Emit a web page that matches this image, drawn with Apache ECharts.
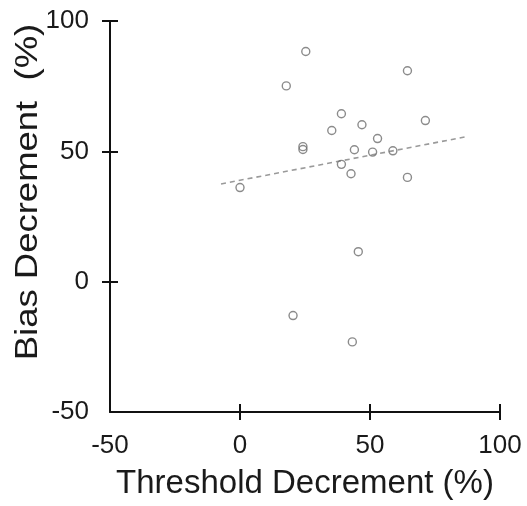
<!DOCTYPE html>
<html>
<head>
<meta charset="utf-8">
<script src="https://cdn.jsdelivr.net/npm/echarts@6/dist/echarts.min.js"></script>
<style>html,body{margin:0;padding:0;background:#fff}#c{width:527px;height:506px}</style>
</head>
<body>
<div id="c"></div>
<script>
var thresholdDecrement = [25.3, 64.4, 17.8, 39.0, 46.9, 35.3, 71.3, 52.9, 24.2, 24.2, 44.0, 51.0, 58.8, 39.0, 42.7, 64.4, 0.0, 45.5, 20.4, 43.2];
var biasDecrement      = [88.3, 80.9, 75.1, 64.4, 60.2, 58.0, 61.8, 54.9, 51.8, 50.7, 50.6, 49.7, 50.2, 45.0, 41.4, 40.0, 36.1, 11.5, -13.0, -23.1];
var trendX = [-7.3, 87.0];
var trendY = [37.5, 55.6];
var tickValues = [0, 50, 100];
var xTitle = 'Threshold Decrement (%)';
var yTitle = 'Bias Decrement  (%)';

var pts = thresholdDecrement.map(function (x, i) { return [x, biasDecrement[i]]; });
var trend = trendX.map(function (x, i) { return [x, trendY[i]]; });

var FONT = '"Liberation Sans", Arial, sans-serif';
var TXT = '#1a1a1a';
var AX = '#111';

var chart = echarts.init(document.getElementById('c'), null, { renderer: 'canvas' });
chart.setOption({
  animation: false,
  backgroundColor: '#fff',
  grid: { left: 110, top: 21, width: 390, height: 391, containLabel: false },
  xAxis: [
    {
      type: 'value', min: -50, max: 100, interval: 50, position: 'bottom',
      splitLine: { show: false },
      axisLine: { show: true, onZero: false, lineStyle: { color: AX, width: 2 } },
      axisTick: { show: false },
      axisLabel: { show: true, margin: 21, fontSize: 26, color: TXT, fontFamily: FONT },
      name: xTitle, nameLocation: 'middle', nameGap: 55,
      nameTextStyle: { fontSize: 33, color: TXT, fontFamily: FONT }
    },
    {
      type: 'value', min: -50, max: 100, interval: 50, position: 'bottom', offset: -8,
      splitLine: { show: false },
      axisLine: { show: false, onZero: false },
      axisTick: { show: true, inside: false, length: 16, customValues: tickValues, lineStyle: { color: AX, width: 2 } },
      axisLabel: { show: false }
    }
  ],
  yAxis: [
    {
      type: 'value', min: -50, max: 100, interval: 50, position: 'left',
      splitLine: { show: false },
      axisLine: { show: true, onZero: false, lineStyle: { color: AX, width: 2 } },
      axisTick: { show: false },
      axisLabel: { show: true, margin: 21, fontSize: 26, color: TXT, fontFamily: FONT }
    },
    {
      type: 'value', min: -50, max: 100, interval: 50, position: 'left', offset: -8,
      splitLine: { show: false },
      axisLine: { show: false, onZero: false },
      axisTick: { show: true, inside: false, length: 16, customValues: tickValues, lineStyle: { color: AX, width: 2 } },
      axisLabel: { show: false }
    }
  ],
  graphic: [{
    type: 'text', x: 28, y: 192, rotation: Math.PI / 2, scaleX: 1.14,
    style: { text: yTitle, fontSize: 32, fontFamily: FONT, fill: TXT, align: 'center', verticalAlign: 'middle' }
  }],
  series: [
    {
      type: 'line', data: trend, showSymbol: false, symbol: 'none', silent: true,
      lineStyle: { color: '#9a9a9a', width: 1.6, type: [5, 4] }, z: 1
    },
    {
      type: 'scatter', data: pts, symbol: 'circle', symbolSize: 8,
      itemStyle: { color: 'rgba(255,255,255,0)', borderColor: '#6e6e6e', borderWidth: 1.4 }, z: 2
    }
  ]
});
</script>
</body>
</html>
